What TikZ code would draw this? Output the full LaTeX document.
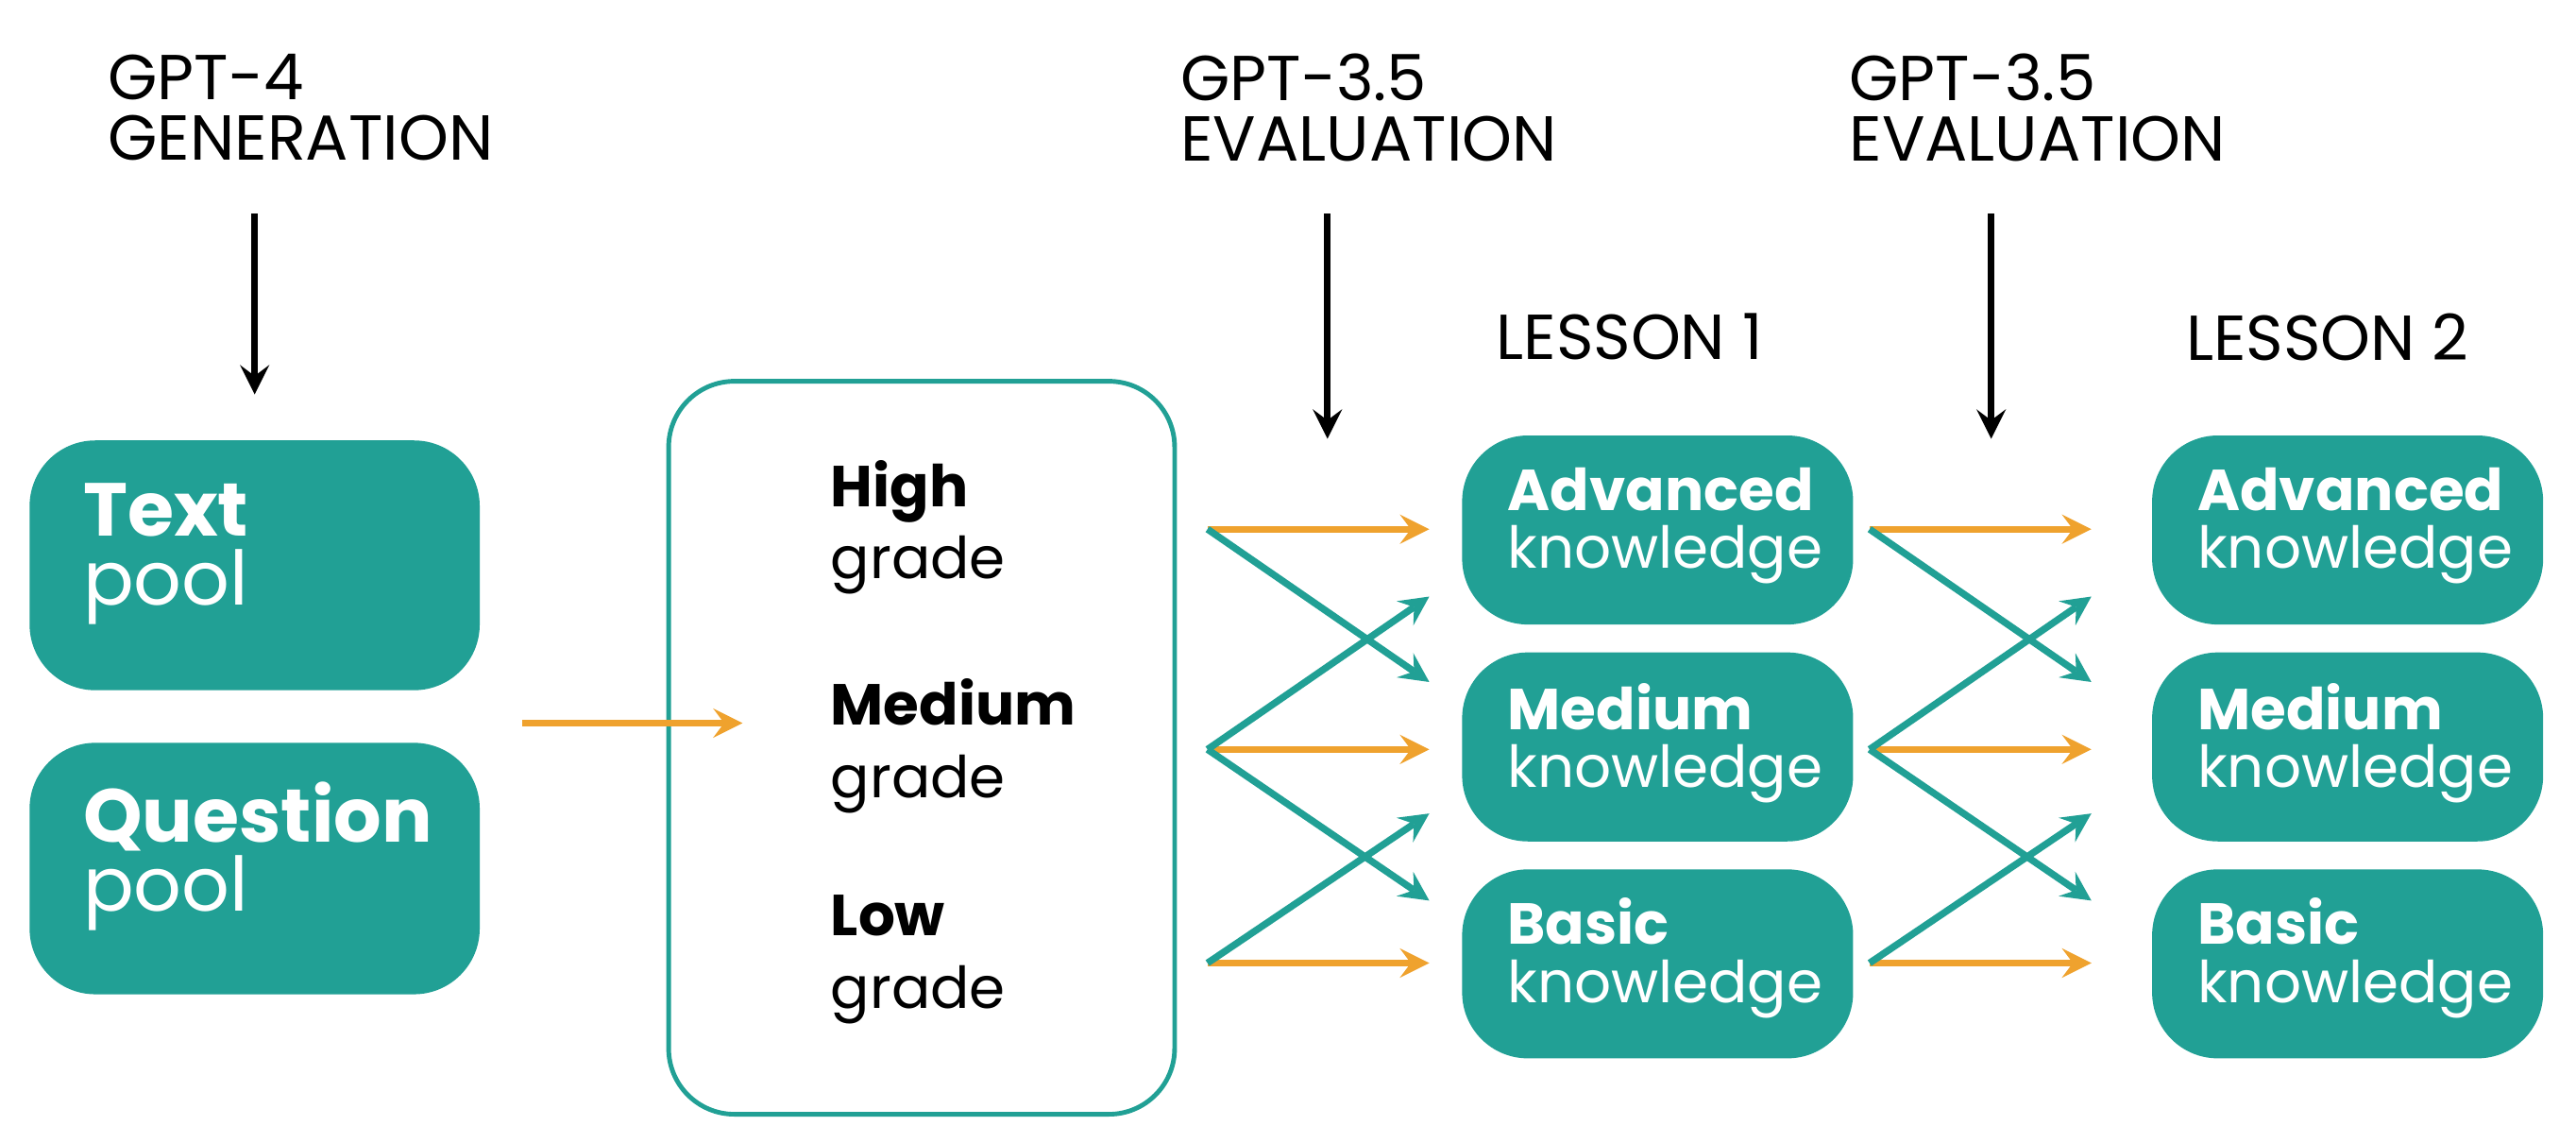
\documentclass[tikz,border=0pt]{standalone}
\usepackage{fontspec}
\setmainfont{Poppins}
\definecolor{teal1}{HTML}{21A095}
\definecolor{org}{HTML}{EFA22E}
\begin{document}
\begin{tikzpicture}[x=0.01cm,y=-0.01cm,
  plbl/.style={anchor=west,text=white,align=left,font=\fontsize{13}{12}\selectfont,inner sep=0},
  lbl/.style={anchor=west,text=white,align=left,font=\fontsize{10}{10}\selectfont,inner sep=0},
  blab/.style={anchor=west,align=left,font=\fontsize{10}{12.5}\selectfont,inner sep=0},
  hdr/.style={anchor=north west,align=left,font=\fontsize{11}{10.5}\selectfont,inner sep=0},
  oa/.style={draw=org,line width=1.2pt,-stealth},
  ta/.style={draw=teal1,line width=1.2pt,-stealth},
  ka/.style={draw=black,line width=1.2pt,-stealth}]
\useasboundingbox (0,0) rectangle (1568,695);
% headers
\node[hdr] (h1) at (65,32) {GPT-4\\GENERATION};
\node[hdr] (h2) at (718,32) {GPT-3.5\\EVALUATION};
\node[hdr] (h3) at (1125,32) {GPT-3.5\\EVALUATION};
\coordinate (a1s) at (155,130); \coordinate (a1e) at (155,240);
\coordinate (a2s) at (808,130); \coordinate (a2e) at (808,267);
\coordinate (a3s) at (1212,130); \coordinate (a3e) at (1212,267);
\draw[ka] (a1s) -- (a1e); \draw[ka] (a2s) -- (a2e); \draw[ka] (a3s) -- (a3e);
\node[hdr,anchor=west] (l1) at (910,205) {LESSON 1};
\node[hdr,anchor=west] (l2) at (1330,205) {LESSON 2};
% pools
\fill[teal1,rounded corners=0.4cm] (18,268) rectangle (292,420);
\fill[teal1,rounded corners=0.4cm] (18,452) rectangle (292,605);
\node[plbl] (tpl) at (50,337) {\textbf{Text}\\pool};
\node[plbl] (qpl) at (50,521) {\textbf{Question}\\pool};
% grade box
\draw[teal1,line width=0.8pt,rounded corners=0.4cm] (407,232) rectangle (715,678);
\node[blab] (hg) at (505,321) {\textbf{High}\\grade};
\node[blab] (mg) at (505,454) {\textbf{Medium}\\grade};
\node[blab] (lg) at (505,584) {\textbf{Low}\\grade};
\coordinate (ps) at (318,440); \coordinate (pe) at (452,440);
\draw[oa] (ps) -- (pe);
% knowledge boxes
\foreach \x/\n in {890/a,1310/b}{
  \fill[teal1,rounded corners=0.4cm] (\x,265) rectangle (\x+238,380);
  \fill[teal1,rounded corners=0.4cm] (\x,397) rectangle (\x+238,512);
  \fill[teal1,rounded corners=0.4cm] (\x,529) rectangle (\x+238,644);
  \node[lbl] (adv\n) at (\x+27,320) {\textbf{Advanced}\\knowledge};
  \node[lbl] (med\n) at (\x+27,452) {\textbf{Medium}\\knowledge};
  \node[lbl] (bas\n) at (\x+27,583) {\textbf{Basic}\\knowledge};
}
% arrows
\foreach \s in {0,403}{
  \coordinate (s1) at (735+\s,322); \coordinate (s2) at (735+\s,456); \coordinate (s3) at (735+\s,586);
  \coordinate (e1) at (870+\s,322); \coordinate (e2) at (870+\s,456); \coordinate (e3) at (870+\s,586);
  \coordinate (u1) at (870+\s,363); \coordinate (d1) at (870+\s,415);
  \coordinate (u2) at (870+\s,495); \coordinate (d2) at (870+\s,548);
  \draw[oa] (s1) -- (e1); \draw[oa] (s2) -- (e2); \draw[oa] (s3) -- (e3);
  \draw[ta] (s1) -- (d1); \draw[ta] (s2) -- (u1);
  \draw[ta] (s2) -- (d2); \draw[ta] (s3) -- (u2);
}
\end{tikzpicture}
\end{document}
